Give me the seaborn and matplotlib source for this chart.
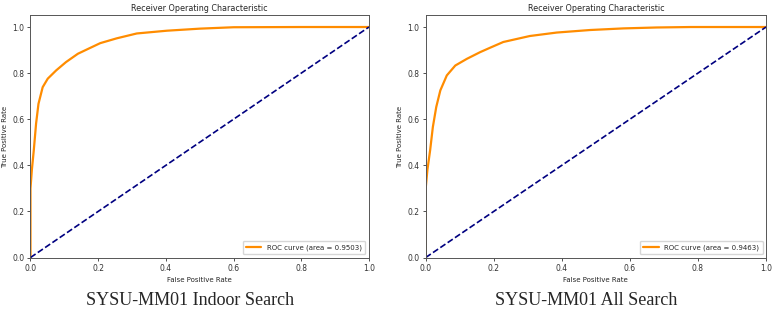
"""ROC curves for SYSU-MM01 indoor and all-search settings."""

import matplotlib
matplotlib.use("Agg")
import matplotlib.pyplot as plt
import pandas as pd
import seaborn as sns

# Indoor search ROC
INDOOR_FPR = [0.0, 0.0, 0.0, 0.004, 0.0097, 0.0165, 0.0236, 0.036, 0.051,
              0.076, 0.105, 0.14, 0.17, 0.206, 0.255, 0.314, 0.403, 0.501,
              0.6, 0.8, 1.0]
INDOOR_TPR = [0.0, 0.2, 0.3, 0.38, 0.465, 0.581, 0.667, 0.739, 0.776,
              0.812, 0.848, 0.884, 0.905, 0.93, 0.951, 0.972, 0.984, 0.993,
              0.999, 1.0, 1.0]
INDOOR_AUC = 0.9503

# All search ROC
ALL_FPR = [0.0, 0.0, 0.0, 0.005, 0.013, 0.021, 0.031, 0.043, 0.062, 0.087,
           0.121, 0.16, 0.189, 0.228, 0.306, 0.385, 0.483, 0.581, 0.679,
           0.78, 1.0]
ALL_TPR = [0.0, 0.2, 0.3, 0.38, 0.465, 0.566, 0.653, 0.725, 0.79, 0.833,
           0.862, 0.891, 0.91, 0.935, 0.961, 0.976, 0.987, 0.994, 0.998,
           1.0, 1.0]
ALL_AUC = 0.9463

CAPTIONS = ["SYSU-MM01 Indoor Search", "SYSU-MM01 All Search"]
CHANCE = [0.0, 1.0]
TICKS = [0.0, 0.2, 0.4, 0.6, 0.8, 1.0]


def draw_roc(ax, fpr, tpr, auc):
    df = pd.DataFrame({"fpr": fpr, "tpr": tpr})
    sns.lineplot(data=df, x="fpr", y="tpr", ax=ax, color="darkorange", lw=1.6,
                 sort=False, estimator=None,
                 label=f"ROC curve (area = {auc:.4f})")
    sns.lineplot(x=CHANCE, y=CHANCE, ax=ax, color="navy", lw=1.2,
                 linestyle="--")
    ax.set_xlim(0.0, 1.0)
    ax.set_ylim(0.0, 1.05)
    ax.set_xticks(TICKS)
    ax.set_yticks(TICKS)
    ax.tick_params(labelsize=5.5, length=2.5, width=0.6, pad=2,
                   colors="#333333")
    ax.set_xlabel("False Positive Rate", fontsize=5, labelpad=3)
    ax.set_ylabel("True Positive Rate", fontsize=5, labelpad=3)
    ax.set_title("Receiver Operating Characteristic", fontsize=5.8, pad=3)
    for s in ax.spines.values():
        s.set_linewidth(0.7)
        s.set_color("#555555")
    ax.legend(loc="lower right", fontsize=5, handlelength=2.2,
              frameon=True, borderpad=0.5, fancybox=True)


def main():
    sns.set_style("ticks")
    fig = plt.figure(figsize=(7.74, 3.13), dpi=100)
    ax1 = fig.add_axes([0.0394, 0.1773, 0.4373, 0.7732])
    ax2 = fig.add_axes([0.550, 0.1773, 0.4397, 0.7732])

    draw_roc(ax1, INDOOR_FPR, INDOOR_TPR, INDOOR_AUC)
    draw_roc(ax2, ALL_FPR, ALL_TPR, ALL_AUC)

    for x, text in zip([0.245, 0.757], CAPTIONS):
        fig.text(x, 0.040, text, ha="center", va="center", fontsize=13,
                 family=["Liberation Serif", "DejaVu Serif"])

    fig.savefig("out.png", dpi=100)


if __name__ == "__main__":
    main()
